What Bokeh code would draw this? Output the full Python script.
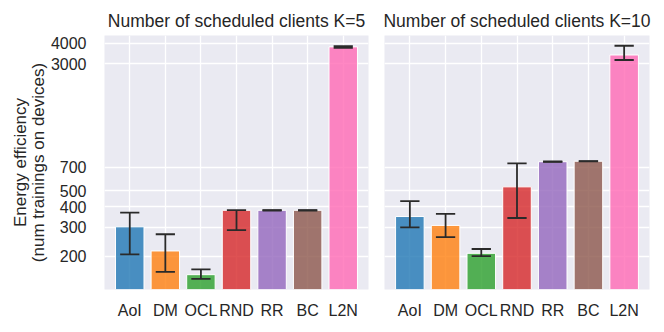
from bokeh.plotting import figure
from bokeh.layouts import row
from bokeh.models import Range1d, FixedTicker, NumeralTickFormatter, ColumnDataSource, Title
from bokeh.embed import file_html
from bokeh.resources import INLINE

methods = ["AoI", "DM", "OCL", "RND", "RR", "BC", "L2N"]
colors = ["#1f77b4", "#ff7f0e", "#2ca02c", "#d62728", "#9467bd", "#8c564b", "#ff69b4"]

k5_mean = [302, 215, 154, 381, 381, 381, 3800]
k5_low = [205, 160, 145, 288, 380, 380, 3750]
k5_high = [369, 272, 166, 382, 382, 382, 3840]

k10_mean = [349, 308, 208, 530, 755, 760, 3390]
k10_low = [300, 261, 200, 342, 753, 758, 3160]
k10_high = [433, 362, 221, 738, 757, 762, 3860]

y_ticks = [200, 300, 400, 500, 700, 3000, 4000]
titles = ["Number of scheduled clients K=5", "Number of scheduled clients K=10"]
ylabel_lines = ["Energy efficiency", "(num trainings on devices)"]

FONT = "Liberation Sans"
TXT = "#262626"
BG = "#eaeaf2"
Y0, Y1 = 125, 4460


def make(title, mean, low, high, left, width, border_left, border_right):
    xs = list(range(len(methods)))
    p = figure(width=width, height=324, y_axis_type="log",
               x_range=Range1d(-0.71, len(methods) - 1 + 0.71),
               y_range=Range1d(Y0, Y1),
               output_backend="svg", toolbar_location=None,
               min_border_left=border_left, min_border_right=border_right,
               min_border_top=35, min_border_bottom=35)
    p.title.text = title
    p.title.text_font = FONT
    p.title.text_font_size = "17.5px"
    p.title.text_font_style = "normal"
    p.title.text_color = TXT
    p.title.align = "center"
    p.background_fill_color = BG
    p.border_fill_color = "white"
    p.outline_line_color = None

    src = ColumnDataSource(dict(x=xs, top=mean, low=low, high=high, color=colors,
                                xl=[x - 0.27 for x in xs], xr=[x + 0.27 for x in xs]))
    p.vbar(x="x", top="top", bottom=1, width=0.8, fill_color="color", fill_alpha=0.8,
           line_color="white", line_width=1, source=src)
    p.segment(x0="x", x1="x", y0="low", y1="high", line_color="#2a2a2a", line_width=1.8, source=src)
    p.segment(x0="xl", x1="xr", y0="low", y1="low", line_color="#2a2a2a", line_width=1.8, source=src)
    p.segment(x0="xl", x1="xr", y0="high", y1="high", line_color="#2a2a2a", line_width=1.8, source=src)

    p.xaxis.ticker = FixedTicker(ticks=xs)
    p.xaxis.major_label_overrides = {i: m for i, m in enumerate(methods)}
    p.yaxis.ticker = FixedTicker(ticks=y_ticks, minor_ticks=[])
    p.yaxis.formatter = NumeralTickFormatter(format="0")
    for ax in [p.xaxis, p.yaxis]:
        ax.axis_line_color = None
        ax.major_tick_line_color = None
        ax.minor_tick_line_color = None
        ax.major_label_text_font = FONT
        ax.major_label_text_font_size = "16px"
        ax.major_label_text_color = TXT
    p.xaxis.major_label_standoff = 6
    p.yaxis.major_label_standoff = 12
    p.xgrid.ticker = FixedTicker(ticks=xs)
    p.ygrid.ticker = FixedTicker(ticks=y_ticks, minor_ticks=[])
    p.grid.grid_line_color = "white"
    p.grid.grid_line_width = 1.3
    if left:
        for line, so in [(ylabel_lines[1], 0), (ylabel_lines[0], -6)]:
            p.add_layout(Title(text=line, align="center", text_font=FONT,
                               text_font_size="17px", text_font_style="normal",
                               text_color=TXT, standoff=so, offset=0), "left")
    else:
        p.yaxis.visible = False
    return p


p1 = make(titles[0], k5_mean, k5_low, k5_high, True, 378, 104, 10)
p2 = make(titles[1], k10_mean, k10_low, k10_high, False, 278, 6, 7)
layout = row(p1, p2)

open("out.html", "w").write(file_html(layout, INLINE))
